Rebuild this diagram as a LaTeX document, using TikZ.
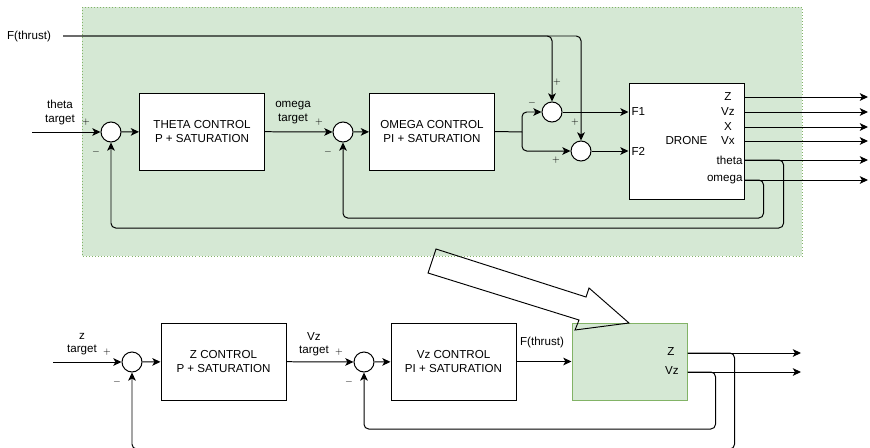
\documentclass[tikz,border=0pt]{standalone}
\usepackage{fontspec}
\setmainfont{Liberation Sans}
\usetikzlibrary{arrows.meta,positioning}
\definecolor{grnfill}{HTML}{D5E8D4}
\definecolor{grnline}{HTML}{82B366}

\begin{document}
\begin{tikzpicture}[
  x=0.03cm, y=-0.03cm,
  font=\fontsize{9.9}{11.5}\selectfont,
  line width=0.85pt,
  ctrl/.style  = {draw, fill=white, minimum width=3.75cm, minimum height=2.31cm,
                  align=center, inner sep=0pt},
  sum/.style   = {draw, circle, fill=white, minimum size=0.6cm, inner sep=0pt},
  plant/.style = {draw, fill=white, minimum width=3.45cm, inner sep=0pt},
  lbl/.style   = {align=center, inner sep=1pt},
  sgn/.style   = {font=\fontsize{8.5}{9}\selectfont, inner sep=0pt},
  arr/.style   = {-{Stealth[length=7pt,width=6.5pt,inset=1.8pt]}, rounded corners=4pt},
  lin/.style   = {rounded corners=4pt}
]
\useasboundingbox (0,0) rectangle (870,447);
%% Attitude loop container
\fill[grnfill] (82,7) rectangle (802,256);
\draw[grnline, dotted, line width=0.6pt] (82,7) rectangle (802,256);

%% Upper loop: theta / omega
\node[sum]  (s1) at (111,132) {};
\node[ctrl] (thc) at (202,131.5) {THETA CONTROL\\P + SATURATION};
\node[sum]  (s2) at (343,132) {};
\node[ctrl] (omc) at (432,131.5) {OMEGA CONTROL\\PI + SATURATION};
\node[sum]  (s3) at (552,112) {};
\node[sum]  (s4) at (581,151) {};
\node[plant, minimum height=3.48cm] (drn) at (686.5,141) {DRONE};
\node[lbl] (ft) at (29,36) {F(thrust)};
\node[lbl] at (60,112.5) {theta\\target};
\node[lbl] at (293,112.5) {omega\\target};
\coordinate (ftin) at (63,36);
\coordinate (thin) at (32,132);
\coordinate (split) at (522,132);

%% Upper ports
\node[anchor=west, inner sep=0pt] at (631,112) {F1};
\node[anchor=west, inner sep=0pt] at (631,151) {F2};
\foreach \nm/\yy/\tx in {z/97/Z, vz/112/Vz, x/127/X, vx/141/Vx}{
  \node[inner sep=0pt] at (728,\yy) {\tx};
  \coordinate (o\nm) at (868,\yy);}
\foreach \nm/\yy in {th/160, om/180}{
  \coordinate (o\nm) at (868,\yy);}
\node[anchor=east, inner sep=0pt] at (743,160) {theta};
\node[anchor=east, inner sep=0pt] at (743,180) {omega};

%% Signs upper
\foreach \xx/\yy/\sg in {86/122/+, 96/152/-, 319/122/+, 328/152/-, 532/103/-,
                         557/82/+, 575/122/+, 556/160/+}{
  \node[sgn] at (\xx,\yy) {$\sg$};}

%% Upper flow
\draw[arr] (thin) -- (s1);
\draw[arr] (s1) -- (thc);
\draw[arr] (thc) -- (s2);
\draw[arr] (s2) -- (omc);
\draw[lin] (omc.east) -- (split);
\draw[arr] (split) |- (s3.west);
\draw[arr] (split) |- (s4.west);
\draw[arr] (ftin) -| (s3.north);
\draw[arr] (ftin) -| (s4.north);
\draw[arr] (s3.east) -- (drn.west |- s3);
\draw[arr] (s4.east) -- (drn.west |- s4);
\foreach \nm in {z,vz,x,vx,th,om}{
  \draw[arr] (drn.east |- o\nm) -- (o\nm);}
%% Upper feedback
\draw[arr] (drn.east |- oth) -| ++(39,68) -| (s1.south);
\draw[arr] (drn.east |- oom) -| ++(19,38) -| (s2.south);

%% Lower loop: z / Vz
\node[sum]  (sz) at (132,362) {};
\node[ctrl] (zc) at (223.5,361.5) {Z CONTROL\\P + SATURATION};
\node[sum]  (svz) at (364,362) {};
\node[ctrl] (vzc) at (453.5,361.5) {Vz CONTROL\\PI + SATURATION};
\node[plant, fill=grnfill, draw=grnline, minimum height=2.31cm] (pl) at (629.5,361.5) {};
\node[lbl] at (82,344) {z\\target};
\node[lbl] at (314,344) {Vz\\target};
\node[lbl] at (542,342) {F(thrust)};
\coordinate (zin) at (53,362);
\node[inner sep=0pt] at (671,352) {Z};
\node[inner sep=0pt] at (672,371) {Vz};
\coordinate (oz2) at (801,353);
\coordinate (ovz2) at (801,372);
\foreach \xx/\yy/\sg in {107/352/+, 117/382/-, 339/352/+, 349/382/-}{
  \node[sgn] at (\xx,\yy) {$\sg$};}

%% Lower flow
\draw[arr] (zin) -- (sz);
\draw[arr] (sz) -- (zc);
\draw[arr] (zc) -- (svz);
\draw[arr] (svz) -- (vzc);
\draw[arr] (vzc.east) -- (pl.west |- vzc);
\draw[arr] (pl.east |- oz2) -- (oz2);
\draw[arr] (pl.east |- ovz2) -- (ovz2);
%% Lower feedback
\draw[arr] (pl.east |- oz2) -| ++(47,96) -| (sz.south);
\draw[arr] (pl.east |- ovz2) -| ++(28,57) -| (svz.south);

%% Hollow arrow
\draw[line width=0.8pt, line join=miter] (436,249) -- (586,297) -- (589,288) -- (629,323)
  -- (575,330) -- (579,320) -- (428,273) -- cycle;
\end{tikzpicture}
\end{document}
